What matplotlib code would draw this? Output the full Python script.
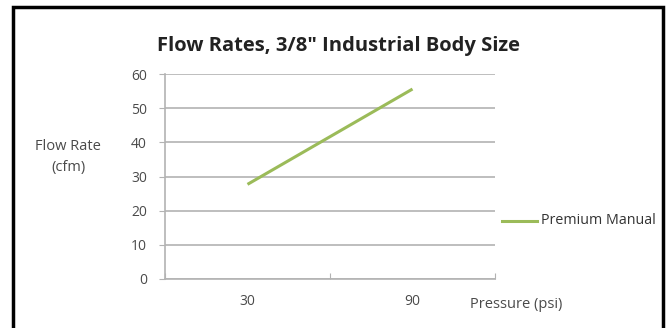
import numpy as np
import matplotlib.pyplot as plt
from matplotlib.patches import Rectangle
from matplotlib.lines import Line2D

plt.rcParams['font.family'] = ['Open Sans', 'DejaVu Sans']

# Chart data
pressure_labels = ["30", "90"]
flow_rates = [27.7, 55.6]
series_name = "Premium Manual"
y_ticks = [0, 10, 20, 30, 40, 50, 60]

text_gray = "#4a4a4a"
grid_gray = "#b3b3b3"
green = "#9bbb59"

fig = plt.figure(figsize=(6.69, 3.28), dpi=100)
ax = fig.add_axes([165 / 669, 1 - 279 / 328, 330 / 669, 205 / 328])

xs = np.arange(len(pressure_labels))
ax.plot(xs, flow_rates, color=green, linewidth=2.2, solid_capstyle="butt")

ax.set_xlim(-0.5, len(pressure_labels) - 0.5)
ax.set_ylim(0, 60)
ax.set_yticks(y_ticks)
ax.set_yticklabels([str(v) for v in y_ticks], color=text_gray, fontsize=10)
ax.yaxis.grid(True, color=grid_gray, linewidth=1.2)
ax.set_axisbelow(True)

# category boundaries carry the tick marks, labels sit at the centres
ax.set_xticks(np.arange(-0.5, len(pressure_labels), 1.0))
ax.set_xticklabels([])
ax.set_xticks(xs, minor=True)
ax.set_xticklabels(pressure_labels, minor=True, color=text_gray, fontsize=10)
ax.tick_params(axis="x", which="minor", length=0, pad=11)
ax.tick_params(axis="x", which="major", length=4, direction="in", color=grid_gray)
ax.tick_params(axis="y", length=4, color=grid_gray, pad=9)

for side in ["top", "right"]:
    ax.spines[side].set_visible(False)
ax.spines["left"].set_color(grid_gray)
ax.spines["bottom"].set_color(grid_gray)
ax.spines["left"].set_linewidth(1.2)
ax.spines["bottom"].set_linewidth(1.2)

fig.text(338 / 669, 1 - 46 / 328, 'Flow Rates, 3/8" Industrial Body Size',
         ha="center", va="center", fontsize=14.5, fontweight="bold", color="#222222")
fig.text(68 / 669, 1 - 157 / 328, "Flow Rate\n(cfm)", ha="center", va="center",
         fontsize=10.5, color=text_gray, linespacing=1.5)
fig.text(470 / 669, 1 - 305 / 328, "Pressure (psi)", ha="left", va="center",
         fontsize=10.5, color=text_gray)

# legend entry
fig.add_artist(Line2D([502 / 669, 537 / 669], [1 - 221 / 328] * 2, color=green,
                      linewidth=2.2, transform=fig.transFigure))
fig.text(541 / 669, 1 - 221 / 328, series_name, ha="left", va="center",
         fontsize=10.3, color="#333333")

# outer frame (bottom edge is cropped off)
fig.add_artist(Rectangle((13 / 669, -0.1), 650 / 669, 1.1 - 7 / 328,
                         fill=False, edgecolor="black", linewidth=2.5,
                         transform=fig.transFigure))

fig.savefig("out.png", dpi=100)
